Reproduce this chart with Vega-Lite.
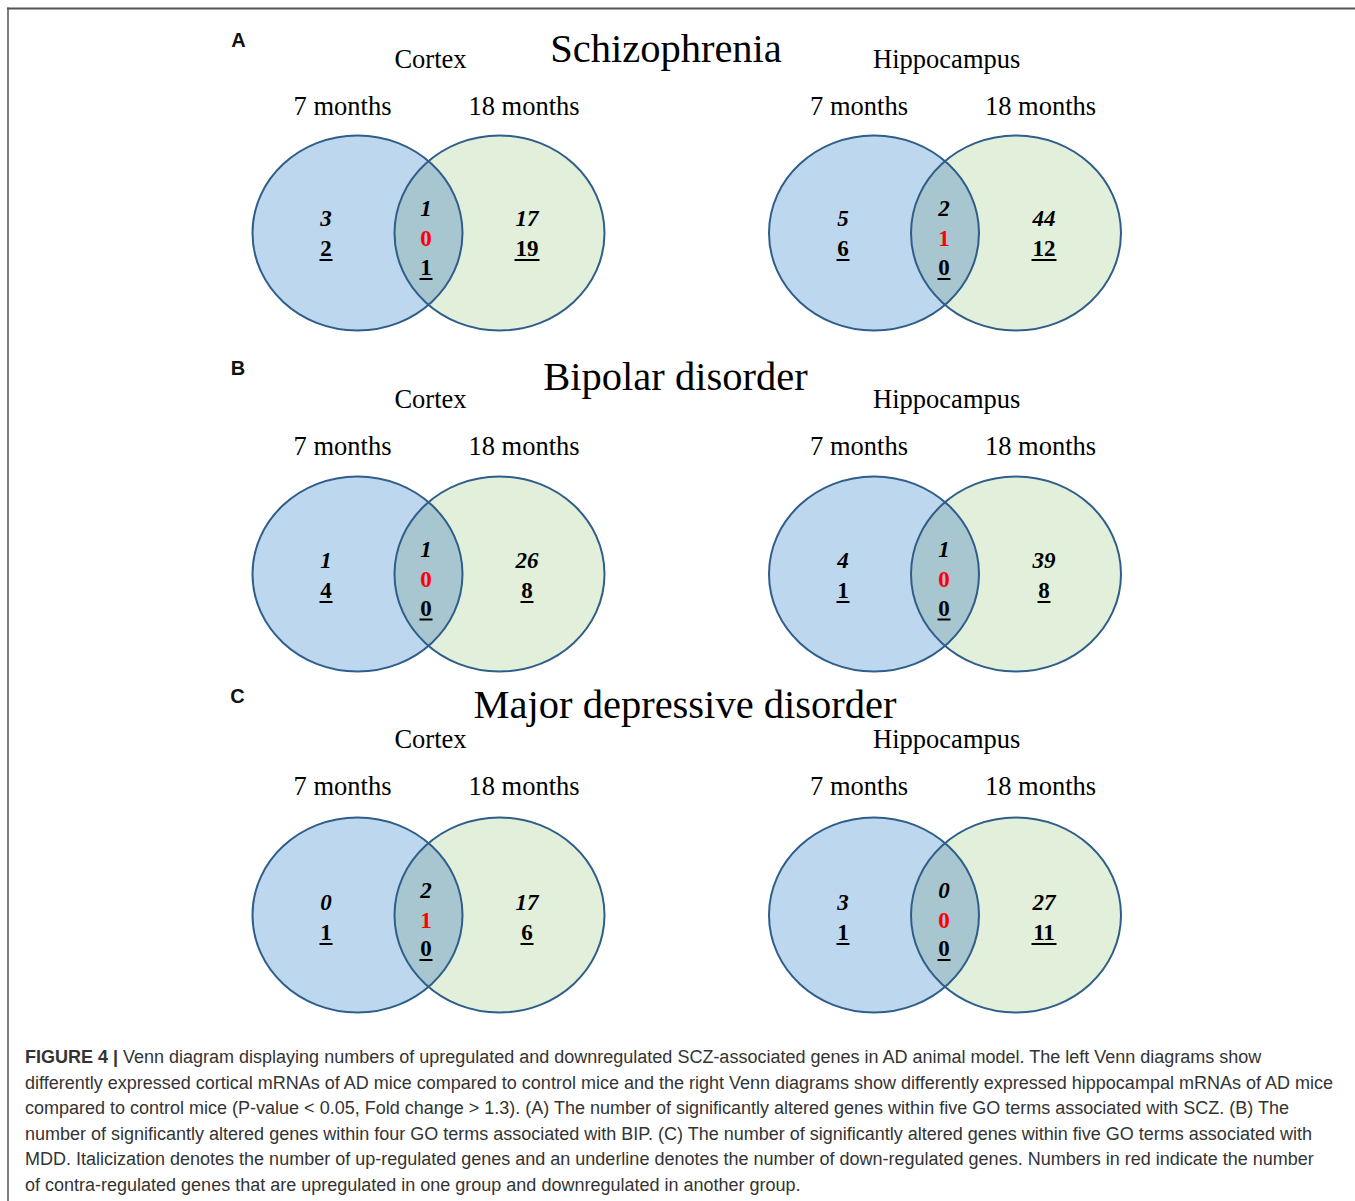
{
  "$schema": "https://vega.github.io/schema/vega-lite/v6.json",
  "width": 1355,
  "height": 1201,
  "padding": 0,
  "autosize": {"type": "none"},
  "background": "#ffffff",
  "config": {"view": {"stroke": null}},
  "datasets": {
    "frame": [
      {"side": "top", "from": "corner", "to": "page edge"},
      {"side": "left", "from": "corner", "to": "page edge"}
    ],
    "headers": [
      {"panel": "A", "disorder": "Schizophrenia"},
      {"panel": "B", "disorder": "Bipolar disorder"},
      {"panel": "C", "disorder": "Major depressive disorder"}
    ],
    "diagrams": [
      {"disorder": "Schizophrenia", "tissue": "Cortex"},
      {"disorder": "Schizophrenia", "tissue": "Hippocampus"},
      {"disorder": "Bipolar disorder", "tissue": "Cortex"},
      {"disorder": "Bipolar disorder", "tissue": "Hippocampus"},
      {"disorder": "Major depressive disorder", "tissue": "Cortex"},
      {"disorder": "Major depressive disorder", "tissue": "Hippocampus"}
    ],
    "circles": [
      {"disorder": "Schizophrenia", "tissue": "Cortex", "set": "7 months"},
      {"disorder": "Schizophrenia", "tissue": "Cortex", "set": "18 months"},
      {"disorder": "Schizophrenia", "tissue": "Hippocampus", "set": "7 months"},
      {"disorder": "Schizophrenia", "tissue": "Hippocampus", "set": "18 months"},
      {"disorder": "Bipolar disorder", "tissue": "Cortex", "set": "7 months"},
      {"disorder": "Bipolar disorder", "tissue": "Cortex", "set": "18 months"},
      {"disorder": "Bipolar disorder", "tissue": "Hippocampus", "set": "7 months"},
      {"disorder": "Bipolar disorder", "tissue": "Hippocampus", "set": "18 months"},
      {"disorder": "Major depressive disorder", "tissue": "Cortex", "set": "7 months"},
      {"disorder": "Major depressive disorder", "tissue": "Cortex", "set": "18 months"},
      {"disorder": "Major depressive disorder", "tissue": "Hippocampus", "set": "7 months"},
      {"disorder": "Major depressive disorder", "tissue": "Hippocampus", "set": "18 months"}
    ],
    "counts": [
      {"disorder": "Schizophrenia", "tissue": "Cortex", "zone": "7 months", "direction": "Up", "count": 3},
      {"disorder": "Schizophrenia", "tissue": "Cortex", "zone": "7 months", "direction": "Down", "count": 2},
      {"disorder": "Schizophrenia", "tissue": "Cortex", "zone": "Both", "direction": "Up", "count": 1},
      {"disorder": "Schizophrenia", "tissue": "Cortex", "zone": "Both", "direction": "Contra", "count": 0},
      {"disorder": "Schizophrenia", "tissue": "Cortex", "zone": "Both", "direction": "Down", "count": 1},
      {"disorder": "Schizophrenia", "tissue": "Cortex", "zone": "18 months", "direction": "Up", "count": 17},
      {"disorder": "Schizophrenia", "tissue": "Cortex", "zone": "18 months", "direction": "Down", "count": 19},
      {"disorder": "Schizophrenia", "tissue": "Hippocampus", "zone": "7 months", "direction": "Up", "count": 5},
      {"disorder": "Schizophrenia", "tissue": "Hippocampus", "zone": "7 months", "direction": "Down", "count": 6},
      {"disorder": "Schizophrenia", "tissue": "Hippocampus", "zone": "Both", "direction": "Up", "count": 2},
      {"disorder": "Schizophrenia", "tissue": "Hippocampus", "zone": "Both", "direction": "Contra", "count": 1},
      {"disorder": "Schizophrenia", "tissue": "Hippocampus", "zone": "Both", "direction": "Down", "count": 0},
      {"disorder": "Schizophrenia", "tissue": "Hippocampus", "zone": "18 months", "direction": "Up", "count": 44},
      {"disorder": "Schizophrenia", "tissue": "Hippocampus", "zone": "18 months", "direction": "Down", "count": 12},
      {"disorder": "Bipolar disorder", "tissue": "Cortex", "zone": "7 months", "direction": "Up", "count": 1},
      {"disorder": "Bipolar disorder", "tissue": "Cortex", "zone": "7 months", "direction": "Down", "count": 4},
      {"disorder": "Bipolar disorder", "tissue": "Cortex", "zone": "Both", "direction": "Up", "count": 1},
      {"disorder": "Bipolar disorder", "tissue": "Cortex", "zone": "Both", "direction": "Contra", "count": 0},
      {"disorder": "Bipolar disorder", "tissue": "Cortex", "zone": "Both", "direction": "Down", "count": 0},
      {"disorder": "Bipolar disorder", "tissue": "Cortex", "zone": "18 months", "direction": "Up", "count": 26},
      {"disorder": "Bipolar disorder", "tissue": "Cortex", "zone": "18 months", "direction": "Down", "count": 8},
      {"disorder": "Bipolar disorder", "tissue": "Hippocampus", "zone": "7 months", "direction": "Up", "count": 4},
      {"disorder": "Bipolar disorder", "tissue": "Hippocampus", "zone": "7 months", "direction": "Down", "count": 1},
      {"disorder": "Bipolar disorder", "tissue": "Hippocampus", "zone": "Both", "direction": "Up", "count": 1},
      {"disorder": "Bipolar disorder", "tissue": "Hippocampus", "zone": "Both", "direction": "Contra", "count": 0},
      {"disorder": "Bipolar disorder", "tissue": "Hippocampus", "zone": "Both", "direction": "Down", "count": 0},
      {"disorder": "Bipolar disorder", "tissue": "Hippocampus", "zone": "18 months", "direction": "Up", "count": 39},
      {"disorder": "Bipolar disorder", "tissue": "Hippocampus", "zone": "18 months", "direction": "Down", "count": 8},
      {"disorder": "Major depressive disorder", "tissue": "Cortex", "zone": "7 months", "direction": "Up", "count": 0},
      {"disorder": "Major depressive disorder", "tissue": "Cortex", "zone": "7 months", "direction": "Down", "count": 1},
      {"disorder": "Major depressive disorder", "tissue": "Cortex", "zone": "Both", "direction": "Up", "count": 2},
      {"disorder": "Major depressive disorder", "tissue": "Cortex", "zone": "Both", "direction": "Contra", "count": 1},
      {"disorder": "Major depressive disorder", "tissue": "Cortex", "zone": "Both", "direction": "Down", "count": 0},
      {"disorder": "Major depressive disorder", "tissue": "Cortex", "zone": "18 months", "direction": "Up", "count": 17},
      {"disorder": "Major depressive disorder", "tissue": "Cortex", "zone": "18 months", "direction": "Down", "count": 6},
      {"disorder": "Major depressive disorder", "tissue": "Hippocampus", "zone": "7 months", "direction": "Up", "count": 3},
      {"disorder": "Major depressive disorder", "tissue": "Hippocampus", "zone": "7 months", "direction": "Down", "count": 1},
      {"disorder": "Major depressive disorder", "tissue": "Hippocampus", "zone": "Both", "direction": "Up", "count": 0},
      {"disorder": "Major depressive disorder", "tissue": "Hippocampus", "zone": "Both", "direction": "Contra", "count": 0},
      {"disorder": "Major depressive disorder", "tissue": "Hippocampus", "zone": "Both", "direction": "Down", "count": 0},
      {"disorder": "Major depressive disorder", "tissue": "Hippocampus", "zone": "18 months", "direction": "Up", "count": 27},
      {"disorder": "Major depressive disorder", "tissue": "Hippocampus", "zone": "18 months", "direction": "Down", "count": 11}
    ],
    "caption": [
      {"line": 1, "part": "label", "start": "margin", "text": "FIGURE 4 |"},
      {"line": 1, "part": "text", "start": "after label", "text": "Venn diagram displaying numbers of upregulated and downregulated SCZ-associated genes in AD animal model. The left Venn diagrams show"},
      {"line": 2, "part": "text", "start": "margin", "text": "differently expressed cortical mRNAs of AD mice compared to control mice and the right Venn diagrams show differently expressed hippocampal mRNAs of AD mice"},
      {"line": 3, "part": "text", "start": "margin", "text": "compared to control mice (P-value < 0.05, Fold change > 1.3). (A) The number of significantly altered genes within five GO terms associated with SCZ. (B) The"},
      {"line": 4, "part": "text", "start": "margin", "text": "number of significantly altered genes within four GO terms associated with BIP. (C) The number of significantly altered genes within five GO terms associated with"},
      {"line": 5, "part": "text", "start": "margin", "text": "MDD. Italicization denotes the number of up-regulated genes and an underline denotes the number of down-regulated genes. Numbers in red indicate the number"},
      {"line": 6, "part": "text", "start": "margin", "text": "of contra-regulated genes that are upregulated in one group and downregulated in another group."}
    ]
  },
  "layer": [
    {
      "data": {"name": "frame"},
      "transform": [{"filter": "datum.side === 'top'"}],
      "mark": {"type": "rule", "color": "#555555", "strokeWidth": 2},
      "encoding": {
        "y": {"field": "side", "type": "nominal", "axis": null, "scale": {"type": "point", "domain": ["top"], "range": [8.5, 8.5], "padding": 0}},
        "x": {"field": "from", "type": "nominal", "axis": null, "scale": {"type": "point", "domain": ["corner", "page edge"], "range": [7, 1355], "padding": 0}},
        "x2": {"field": "to"}
      }
    },
    {
      "data": {"name": "frame"},
      "transform": [{"filter": "datum.side === 'left'"}],
      "mark": {"type": "rule", "color": "#555555", "strokeWidth": 1.5},
      "encoding": {
        "x": {"field": "side", "type": "nominal", "axis": null, "scale": {"type": "point", "domain": ["left"], "range": [8, 8], "padding": 0}},
        "y": {"field": "from", "type": "nominal", "axis": null, "scale": {"type": "point", "domain": ["corner", "page edge"], "range": [7.5, 1201], "padding": 0}},
        "y2": {"field": "to"}
      }
    },
    {
      "data": {"name": "circles"},
      "mark": {"type": "point", "shape": "M1,0C1,0.5129,0.5523,0.9286,0,0.9286C-0.5523,0.9286,-1,0.5129,-1,0C-1,-0.5129,-0.5523,-0.9286,0,-0.9286C0.5523,-0.9286,1,-0.5129,1,0Z", "size": 44100, "filled": true, "opacity": 1, "strokeWidth": 0},
      "encoding": {
        "x": {"field": "tissue", "type": "nominal", "axis": null, "scale": {"type": "point", "domain": ["Cortex", "Hippocampus"], "range": [428.5, 945], "padding": 0}},
        "xOffset": {"field": "set", "type": "nominal", "scale": {"type": "point", "domain": ["7 months", "18 months"], "range": [-71, 71], "padding": 0}},
        "y": {"field": "disorder", "type": "nominal", "axis": null, "scale": {"type": "point", "domain": ["Schizophrenia", "Bipolar disorder", "Major depressive disorder"], "range": [233, 915], "padding": 0}},
        "color": {"field": "set", "type": "nominal", "legend": null, "scale": {"domain": ["7 months", "18 months"], "range": ["#BDD7EE", "#E2EFDA"]}}
      }
    },
    {
      "data": {"name": "diagrams"},
      "mark": {"type": "point", "shape": "M0,-0.6843C0.2063,-0.5086,0.324,-0.2599,0.324,0C0.324,0.2599,0.2063,0.5086,0,0.6843C-0.2063,0.5086,-0.324,0.2599,-0.324,0C-0.324,-0.2599,-0.2063,-0.5086,0,-0.6843Z", "size": 44100, "filled": true, "opacity": 1, "strokeWidth": 0, "color": "#A7C6CF"},
      "encoding": {
        "x": {"field": "tissue", "type": "nominal", "axis": null, "scale": {"type": "point", "domain": ["Cortex", "Hippocampus"], "range": [428.5, 945], "padding": 0}},
        "y": {"field": "disorder", "type": "nominal", "axis": null, "scale": {"type": "point", "domain": ["Schizophrenia", "Bipolar disorder", "Major depressive disorder"], "range": [233, 915], "padding": 0}}
      }
    },
    {
      "data": {"name": "circles"},
      "mark": {"type": "point", "shape": "M1,0C1,0.5129,0.5523,0.9286,0,0.9286C-0.5523,0.9286,-1,0.5129,-1,0C-1,-0.5129,-0.5523,-0.9286,0,-0.9286C0.5523,-0.9286,1,-0.5129,1,0Z", "size": 44100, "filled": false, "opacity": 1, "strokeWidth": 2, "color": "#2F5E8B"},
      "encoding": {
        "x": {"field": "tissue", "type": "nominal", "axis": null, "scale": {"type": "point", "domain": ["Cortex", "Hippocampus"], "range": [428.5, 945], "padding": 0}},
        "xOffset": {"field": "set", "type": "nominal", "scale": {"type": "point", "domain": ["7 months", "18 months"], "range": [-71, 71], "padding": 0}},
        "y": {"field": "disorder", "type": "nominal", "axis": null, "scale": {"type": "point", "domain": ["Schizophrenia", "Bipolar disorder", "Major depressive disorder"], "range": [233, 915], "padding": 0}}
      }
    },
    {
      "data": {"name": "diagrams"},
      "mark": {"type": "text", "font": "Liberation Serif", "fontSize": 26.5, "color": "#000000"},
      "encoding": {
        "x": {"field": "tissue", "type": "nominal", "axis": null, "scale": {"type": "point", "domain": ["Cortex", "Hippocampus"], "range": [430.5, 946.7], "padding": 0}},
        "y": {"field": "disorder", "type": "nominal", "axis": null, "scale": {"type": "point", "domain": ["Schizophrenia", "Bipolar disorder", "Major depressive disorder"], "range": [60, 739.5], "padding": 0}},
        "text": {"field": "tissue", "type": "nominal"}
      }
    },
    {
      "data": {"name": "circles"},
      "mark": {"type": "text", "font": "Liberation Serif", "fontSize": 26.5, "color": "#000000"},
      "encoding": {
        "x": {"field": "tissue", "type": "nominal", "axis": null, "scale": {"type": "point", "domain": ["Cortex", "Hippocampus"], "range": [428.5, 945], "padding": 0}},
        "xOffset": {"field": "set", "type": "nominal", "scale": {"type": "point", "domain": ["7 months", "18 months"], "range": [-86, 95.5], "padding": 0}},
        "y": {"field": "disorder", "type": "nominal", "axis": null, "scale": {"type": "point", "domain": ["Schizophrenia", "Bipolar disorder", "Major depressive disorder"], "range": [107, 787], "padding": 0}},
        "text": {"field": "set", "type": "nominal"}
      }
    },
    {
      "data": {"name": "headers"},
      "mark": {"type": "text", "font": "Liberation Serif", "fontSize": 40.5, "color": "#000000"},
      "encoding": {
        "x": {"field": "disorder", "type": "nominal", "axis": null, "scale": {"type": "point", "domain": ["Schizophrenia", "Bipolar disorder", "Major depressive disorder"], "range": [666, 685], "padding": 0}},
        "y": {"field": "disorder", "type": "nominal", "axis": null, "scale": {"type": "point", "domain": ["Schizophrenia", "Bipolar disorder", "Major depressive disorder"], "range": [50, 706], "padding": 0}},
        "text": {"field": "disorder", "type": "nominal"}
      }
    },
    {
      "data": {"name": "headers"},
      "mark": {"type": "text", "font": "Liberation Sans", "fontSize": 20, "fontWeight": "bold", "color": "#111111"},
      "encoding": {
        "x": {"field": "panel", "type": "nominal", "axis": null, "scale": {"type": "point", "domain": ["A", "B", "C"], "range": [238.5, 237.5], "padding": 0}},
        "y": {"field": "disorder", "type": "nominal", "axis": null, "scale": {"type": "point", "domain": ["Schizophrenia", "Bipolar disorder", "Major depressive disorder"], "range": [41, 697], "padding": 0}},
        "text": {"field": "panel", "type": "nominal"}
      }
    },
    {
      "data": {"name": "counts"},
      "transform": [{"filter": "datum.zone !== 'Both' && datum.direction === 'Up'"}],
      "mark": {"type": "text", "font": "Liberation Serif", "fontSize": 23, "fontWeight": "bold", "fontStyle": "italic", "color": "#000000"},
      "encoding": {
        "x": {"field": "tissue", "type": "nominal", "axis": null, "scale": {"type": "point", "domain": ["Cortex", "Hippocampus"], "range": [427, 944], "padding": 0}},
        "xOffset": {"field": "zone", "type": "nominal", "scale": {"type": "point", "domain": ["7 months", "18 months"], "range": [-101, 100], "padding": 0}},
        "y": {"field": "disorder", "type": "nominal", "axis": null, "scale": {"type": "point", "domain": ["Schizophrenia", "Bipolar disorder", "Major depressive disorder"], "range": [219, 903], "padding": 0}},
        "text": {"field": "count", "type": "nominal"}
      }
    },
    {
      "data": {"name": "counts"},
      "transform": [{"filter": "datum.zone !== 'Both' && datum.direction === 'Down'"}],
      "mark": {"type": "text", "font": "Liberation Serif", "fontSize": 23, "fontWeight": "bold", "color": "#000000"},
      "encoding": {
        "x": {"field": "tissue", "type": "nominal", "axis": null, "scale": {"type": "point", "domain": ["Cortex", "Hippocampus"], "range": [427, 944], "padding": 0}},
        "xOffset": {"field": "zone", "type": "nominal", "scale": {"type": "point", "domain": ["7 months", "18 months"], "range": [-101, 100], "padding": 0}},
        "y": {"field": "disorder", "type": "nominal", "axis": null, "scale": {"type": "point", "domain": ["Schizophrenia", "Bipolar disorder", "Major depressive disorder"], "range": [249, 933], "padding": 0}},
        "text": {"field": "count", "type": "nominal"}
      }
    },
    {
      "data": {"name": "counts"},
      "transform": [{"filter": "datum.zone !== 'Both' && datum.direction === 'Down'"}],
      "mark": {"type": "tick", "orient": "horizontal", "thickness": 2, "color": "#000000", "opacity": 1},
      "encoding": {
        "x": {"field": "tissue", "type": "nominal", "axis": null, "scale": {"type": "point", "domain": ["Cortex", "Hippocampus"], "range": [427, 944], "padding": 0}},
        "xOffset": {"field": "zone", "type": "nominal", "scale": {"type": "point", "domain": ["7 months", "18 months"], "range": [-101, 100], "padding": 0}},
        "y": {"field": "disorder", "type": "nominal", "axis": null, "scale": {"type": "point", "domain": ["Schizophrenia", "Bipolar disorder", "Major depressive disorder"], "range": [260, 944], "padding": 0}},
        "size": {"field": "count", "type": "quantitative", "legend": null, "scale": {"type": "threshold", "domain": [10], "range": [13, 25]}}
      }
    },
    {
      "data": {"name": "counts"},
      "transform": [{"filter": "datum.zone === 'Both' && datum.direction === 'Up'"}],
      "mark": {"type": "text", "font": "Liberation Serif", "fontSize": 23, "fontWeight": "bold", "fontStyle": "italic", "color": "#000000"},
      "encoding": {
        "x": {"field": "tissue", "type": "nominal", "axis": null, "scale": {"type": "point", "domain": ["Cortex", "Hippocampus"], "range": [426, 944], "padding": 0}},
        "y": {"field": "disorder", "type": "nominal", "axis": null, "scale": {"type": "point", "domain": ["Schizophrenia", "Bipolar disorder", "Major depressive disorder"], "range": [209, 891], "padding": 0}},
        "text": {"field": "count", "type": "nominal"}
      }
    },
    {
      "data": {"name": "counts"},
      "transform": [{"filter": "datum.zone === 'Both' && datum.direction === 'Contra'"}],
      "mark": {"type": "text", "font": "Liberation Serif", "fontSize": 23, "fontWeight": "bold", "color": "#FF0000"},
      "encoding": {
        "x": {"field": "tissue", "type": "nominal", "axis": null, "scale": {"type": "point", "domain": ["Cortex", "Hippocampus"], "range": [426, 944], "padding": 0}},
        "y": {"field": "disorder", "type": "nominal", "axis": null, "scale": {"type": "point", "domain": ["Schizophrenia", "Bipolar disorder", "Major depressive disorder"], "range": [239, 921], "padding": 0}},
        "text": {"field": "count", "type": "nominal"}
      }
    },
    {
      "data": {"name": "counts"},
      "transform": [{"filter": "datum.zone === 'Both' && datum.direction === 'Down'"}],
      "mark": {"type": "text", "font": "Liberation Serif", "fontSize": 23, "fontWeight": "bold", "color": "#000000"},
      "encoding": {
        "x": {"field": "tissue", "type": "nominal", "axis": null, "scale": {"type": "point", "domain": ["Cortex", "Hippocampus"], "range": [426, 944], "padding": 0}},
        "y": {"field": "disorder", "type": "nominal", "axis": null, "scale": {"type": "point", "domain": ["Schizophrenia", "Bipolar disorder", "Major depressive disorder"], "range": [268, 949], "padding": 0}},
        "text": {"field": "count", "type": "nominal"}
      }
    },
    {
      "data": {"name": "counts"},
      "transform": [{"filter": "datum.zone === 'Both' && datum.direction === 'Down'"}],
      "mark": {"type": "tick", "orient": "horizontal", "thickness": 2, "color": "#000000", "opacity": 1},
      "encoding": {
        "x": {"field": "tissue", "type": "nominal", "axis": null, "scale": {"type": "point", "domain": ["Cortex", "Hippocampus"], "range": [426, 944], "padding": 0}},
        "y": {"field": "disorder", "type": "nominal", "axis": null, "scale": {"type": "point", "domain": ["Schizophrenia", "Bipolar disorder", "Major depressive disorder"], "range": [279, 960], "padding": 0}},
        "size": {"field": "count", "type": "quantitative", "legend": null, "scale": {"type": "threshold", "domain": [10], "range": [13, 25]}}
      }
    },
    {
      "data": {"name": "caption"},
      "transform": [{"filter": "datum.part === 'label'"}],
      "mark": {"type": "text", "font": "Liberation Sans", "fontSize": 18, "fontWeight": "bold", "align": "left", "color": "#333333"},
      "encoding": {
        "x": {"field": "start", "type": "nominal", "axis": null, "scale": {"type": "point", "domain": ["margin", "after label"], "range": [25, 123], "padding": 0}},
        "y": {"field": "line", "type": "ordinal", "axis": null, "scale": {"type": "point", "domain": [1, 2, 3, 4, 5, 6], "range": [1058, 1186], "padding": 0}},
        "text": {"field": "text", "type": "nominal"}
      }
    },
    {
      "data": {"name": "caption"},
      "transform": [{"filter": "datum.part === 'text'"}],
      "mark": {"type": "text", "font": "Liberation Sans", "fontSize": 18, "align": "left", "color": "#333333"},
      "encoding": {
        "x": {"field": "start", "type": "nominal", "axis": null, "scale": {"type": "point", "domain": ["margin", "after label"], "range": [25, 123], "padding": 0}},
        "y": {"field": "line", "type": "ordinal", "axis": null, "scale": {"type": "point", "domain": [1, 2, 3, 4, 5, 6], "range": [1058, 1186], "padding": 0}},
        "text": {"field": "text", "type": "nominal"}
      }
    }
  ],
  "resolve": {
    "scale": {"x": "independent", "y": "independent", "xOffset": "independent", "yOffset": "independent", "color": "independent", "size": "independent"}
  }
}
